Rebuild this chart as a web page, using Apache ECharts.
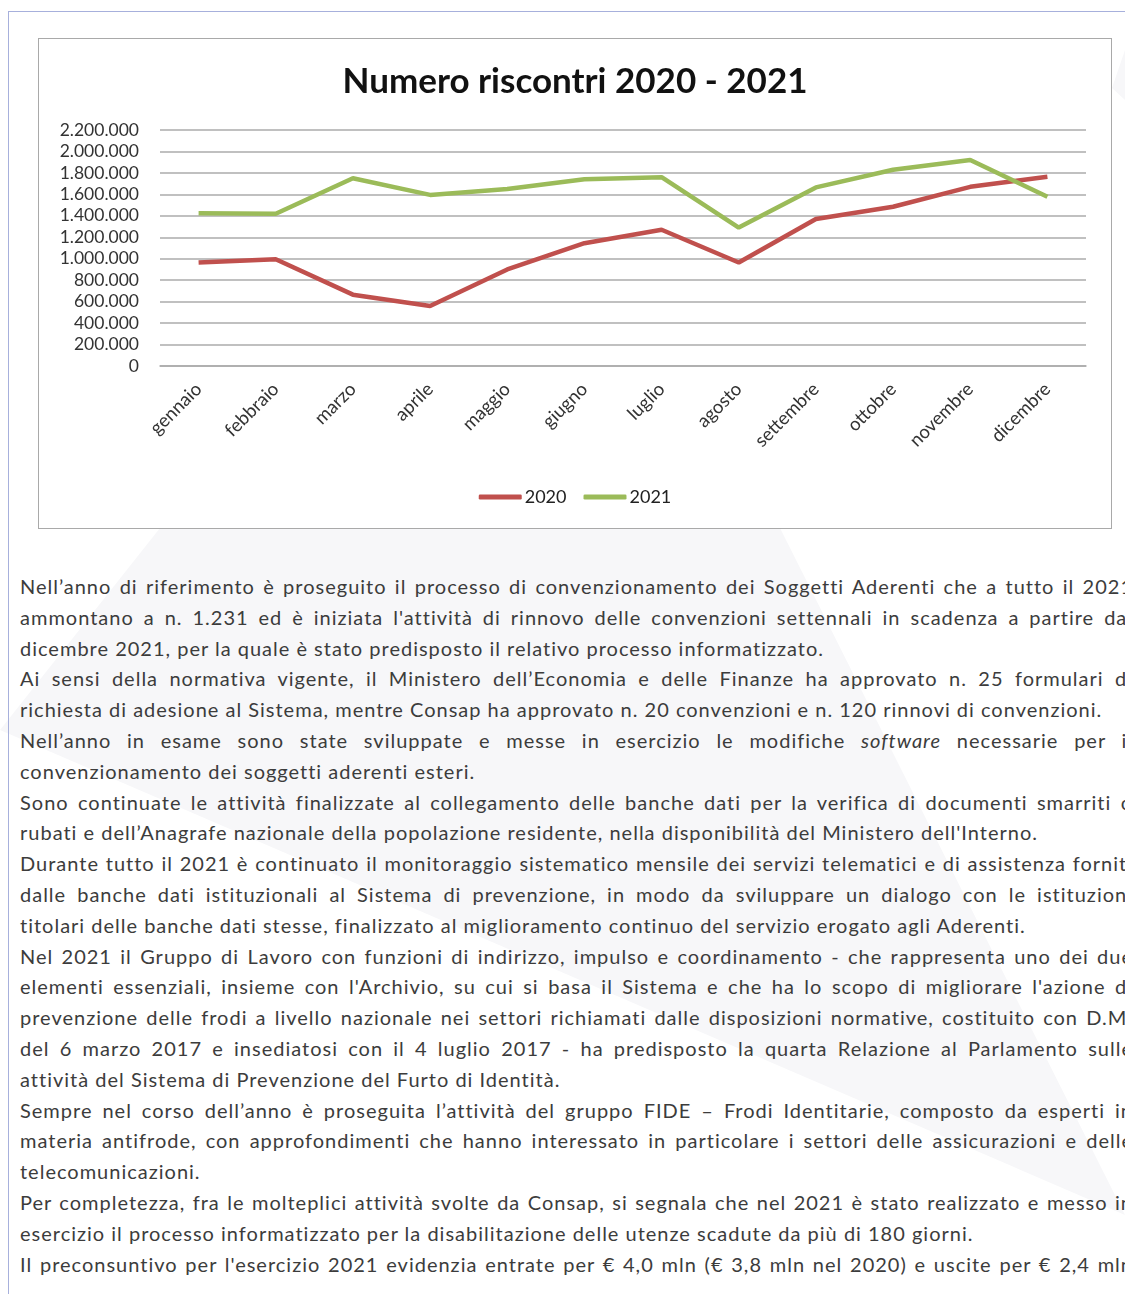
<!DOCTYPE html>
<html>
<head>
<meta charset="utf-8">
<script src="https://cdn.jsdelivr.net/npm/echarts@6/dist/echarts.min.js"></script>
<style>
  html, body { margin: 0; padding: 0; background: #fff; }
  body { width: 1125px; height: 1294px; position: relative; overflow: hidden; }
  #frameTop { position: absolute; left: 8px; top: 11px; width: 1117px; height: 0; border-top: 1.5px solid #a7b0dc; }
  #frameLeft { position: absolute; left: 8px; top: 11px; width: 0; height: 1283px; border-left: 1.5px solid #a7b0dc; }
  #wm { position: absolute; left: 0; top: 0; width: 1125px; height: 1294px; }
  #chart { position: absolute; left: 38px; top: 38px; width: 1074px; height: 491px; border: 1px solid #a9a9a9; box-sizing: border-box; background: #fff; }
  #text { position: absolute; left: 20px; top: 571px; width: 1113px; font-family: Lato, "Open Sans", sans-serif; font-size: 20px; letter-spacing: 1px; color: #3c3c3c; }
  .ln { height: 30.8px; line-height: 30.8px; white-space: nowrap; overflow: visible; }
  .j { text-align: justify; text-align-last: justify; white-space: normal; }
  .l { text-align: left; }
</style>
</head>
<body>
<svg id="wm" viewBox="0 0 1125 1294">
  <polygon points="160,528 780,528 1125,1215 0,730" fill="#f7f7f9"/>
  <polygon points="1125,50 1112,88 1125,100" fill="#f7f7f9"/>
</svg>
<div id="frameTop"></div>
<div id="frameLeft"></div>
<div id="chart"></div>
<div id="text"></div>
<script>
const months = ['gennaio','febbraio','marzo','aprile','maggio','giugno','luglio','agosto','settembre','ottobre','novembre','dicembre'];
const values2020 = [965000, 995000, 665000, 560000, 900000, 1145000, 1270000, 965000, 1370000, 1485000, 1670000, 1765000];
const values2021 = [1425000, 1420000, 1750000, 1595000, 1650000, 1740000, 1760000, 1290000, 1665000, 1830000, 1920000, 1578000];
const seriesNames = ['2020', '2021'];
const yMin = 0, yMax = 2200000, yStep = 200000;
const chartTitle = 'Numero riscontri 2020 - 2021';

const textLines = [
  ['j', 'Nell’anno di riferimento è proseguito il processo di convenzionamento dei Soggetti Aderenti che a tutto il 2021'],
  ['j', 'ammontano a n. 1.231 ed è iniziata l\'attività di rinnovo delle convenzioni settennali in scadenza a partire dal'],
  ['l', 'dicembre 2021, per la quale è stato predisposto il relativo processo informatizzato.'],
  ['j', 'Ai sensi della normativa vigente, il Ministero dell’Economia e delle Finanze ha approvato n. 25 formulari di'],
  ['l', 'richiesta di adesione al Sistema, mentre Consap ha approvato n. 20 convenzioni e n. 120 rinnovi di convenzioni.'],
  ['j', 'Nell’anno in esame sono state sviluppate e messe in esercizio le modifiche <i>software</i> necessarie per il'],
  ['l', 'convenzionamento dei soggetti aderenti esteri.'],
  ['j', 'Sono continuate le attività finalizzate al collegamento delle banche dati per la verifica di documenti smarriti o'],
  ['l', 'rubati e dell’Anagrafe nazionale della popolazione residente, nella disponibilità del Ministero dell\'Interno.'],
  ['j', 'Durante tutto il 2021 è continuato il monitoraggio sistematico mensile dei servizi telematici e di assistenza forniti'],
  ['j', 'dalle banche dati istituzionali al Sistema di prevenzione, in modo da sviluppare un dialogo con le istituzioni'],
  ['l', 'titolari delle banche dati stesse, finalizzato al miglioramento continuo del servizio erogato agli Aderenti.'],
  ['j', 'Nel 2021 il Gruppo di Lavoro con funzioni di indirizzo, impulso e coordinamento - che rappresenta uno dei due'],
  ['j', 'elementi essenziali, insieme con l\'Archivio, su cui si basa il Sistema e che ha lo scopo di migliorare l\'azione di'],
  ['j', 'prevenzione delle frodi a livello nazionale nei settori richiamati dalle disposizioni normative, costituito con D.M.'],
  ['j', 'del 6 marzo 2017 e insediatosi con il 4 luglio 2017 - ha predisposto la quarta Relazione al Parlamento sulle'],
  ['l', 'attività del Sistema di Prevenzione del Furto di Identità.'],
  ['j', 'Sempre nel corso dell’anno è proseguita l’attività del gruppo FIDE – Frodi Identitarie, composto da esperti in'],
  ['j', 'materia antifrode, con approfondimenti che hanno interessato in particolare i settori delle assicurazioni e delle'],
  ['l', 'telecomunicazioni.'],
  ['j', 'Per completezza, fra le molteplici attività svolte da Consap, si segnala che nel 2021 è stato realizzato e messo in'],
  ['l', 'esercizio il processo informatizzato per la disabilitazione delle utenze scadute da più di 180 giorni.'],
  ['j', 'Il preconsuntivo per l\'esercizio 2021 evidenzia entrate per € 4,0 mln (€ 3,8 mln nel 2020) e uscite per € 2,4 mln']
];

const textBox = document.getElementById('text');
textLines.forEach(function (t) {
  const d = document.createElement('div');
  d.className = 'ln ' + t[0];
  d.innerHTML = t[1];
  textBox.appendChild(d);
});

function fmt(v) {
  return String(v).replace(/\B(?=(\d{3})+(?!\d))/g, '.');
}

const FONT = 'Lato, "Open Sans", sans-serif';
const chart = echarts.init(document.getElementById('chart'), null, { renderer: 'canvas' });
chart.setOption({
  animation: false,
  backgroundColor: '#fff',
  color: ['#C0504D', '#9BBB59'],
  title: {
    text: chartTitle,
    left: 'center',
    top: 20,
    textStyle: { fontFamily: FONT, fontWeight: 'bold', fontSize: 35, color: '#111' }
  },
  legend: {
    data: seriesNames,
    bottom: 17,
    left: 'center',
    icon: 'roundRect',
    itemWidth: 43,
    itemHeight: 5,
    itemGap: 17,
    textStyle: { fontFamily: FONT, fontSize: 18, color: '#222', padding: [0, 0, 0, -2] }
  },
  grid: { left: 121, right: 25, top: 91, bottom: 162, containLabel: false },
  xAxis: {
    type: 'category',
    data: months,
    boundaryGap: true,
    axisLine: { show: true, lineStyle: { color: '#ababab', width: 1.5 } },
    axisTick: { show: false },
    axisLabel: { rotate: 45, margin: 20, fontFamily: FONT, fontSize: 18.5, color: '#333', interval: 0 }
  },
  yAxis: {
    type: 'value',
    min: yMin,
    max: yMax,
    interval: yStep,
    axisLine: { show: false },
    axisTick: { show: false },
    axisLabel: { margin: 21, fontFamily: FONT, fontSize: 17.5, color: '#333', formatter: fmt },
    splitLine: { show: true, lineStyle: { color: '#ababab', width: 1.5 } }
  },
  series: [
    { name: seriesNames[0], type: 'line', data: values2020, symbol: 'none', lineStyle: { width: 4.5 } },
    { name: seriesNames[1], type: 'line', data: values2021, symbol: 'none', lineStyle: { width: 4.5 } }
  ]
});
</script>
</body>
</html>
